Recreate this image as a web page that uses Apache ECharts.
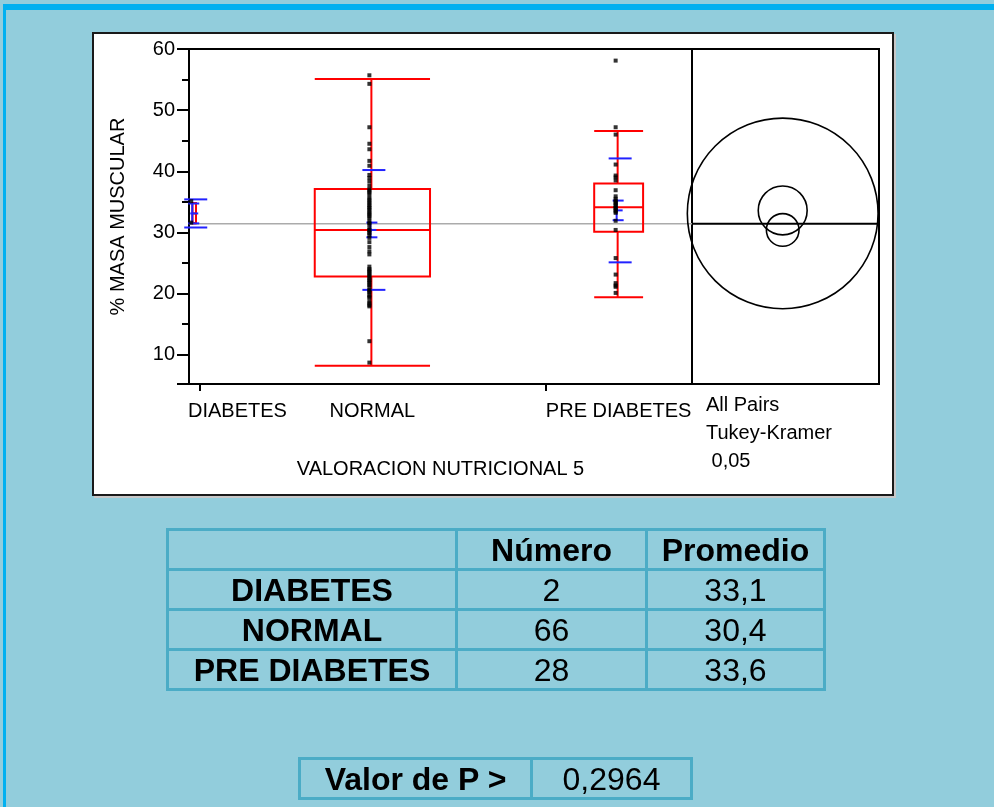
<!DOCTYPE html>
<html>
<head>
<meta charset="utf-8">
<script src="https://cdn.jsdelivr.net/npm/echarts@6/dist/echarts.min.js"></script>
<style>
html,body{margin:0;padding:0;width:994px;height:807px;overflow:hidden;background:#92CDDC;font-family:'Liberation Sans',Arial,sans-serif;}
#frameTop{position:absolute;left:3px;top:4px;width:991px;height:6px;background:#00B0F0;}
#frameLeft{position:absolute;left:3px;top:4px;width:3px;height:803px;background:#00B0F0;}
#panel{position:absolute;left:92px;top:32px;width:798px;height:460px;background:#fff;border:2px solid #1a1a1a;box-shadow:2px 2px 0 #c8c8c8;}
#chart{position:absolute;left:0;top:0;width:994px;height:807px;}
table.t{position:absolute;border-collapse:collapse;table-layout:fixed;color:#000;font-family:'Liberation Sans',Arial,sans-serif;}
table.t td{border:3px solid #4BACC6;text-align:center;vertical-align:middle;padding:0;font-size:32px;line-height:1;}
table.t td.b{font-weight:bold;}
table.t tr{height:40px;}
</style>
</head>
<body>
<div id="frameTop"></div>
<div id="frameLeft"></div>
<div id="panel"></div>
<div id="chart"></div>
<table class="t" id="stats" style="left:166px;top:528px;width:657px;"></table>
<table class="t" id="pbox" style="left:298px;top:757px;width:392px;"></table>
<script>
// ---------------- data ----------------
const categories = ['DIABETES', 'NORMAL', 'PRE DIABETES'];
const counts = [2, 66, 28];
const means = [33.1, 30.4, 33.6];
const stdDevs = [2.3, 9.8, 8.5];
const boxQ1 = [31.5, 22.8, 30.1];
const boxMedian = [33.1, 30.4, 34.1];
const boxQ3 = [34.8, 37.1, 38.0];
const whiskerLow = [31.5, 8.2, 19.4];
const whiskerHigh = [34.8, 55.1, 46.6];
const circleRadius = [15.6, 2.67, 4.0];
const grandMean = 31.4;
const diabetesValues = [35.1, 31.6];
const normalValues = [55.7, 54.3, 47.2, 44.5, 43.6, 41.7, 40.9, 39.4, 38.9, 38.3, 37.6, 37.0, 36.8, 36.5, 36.2, 35.7, 35.4, 35.1, 34.8, 34.5, 34.2, 34.0, 33.7, 33.4, 33.1, 32.9, 32.6, 32.3, 31.8, 31.5, 31.3, 30.7, 30.4, 30.1, 29.9, 29.5, 29.1, 28.4, 27.6, 26.9, 26.4, 24.4, 24.0, 23.8, 23.6, 23.3, 23.1, 22.8, 22.5, 22.2, 22.0, 21.7, 21.4, 21.1, 20.6, 20.4, 20.2, 19.8, 19.5, 19.3, 18.7, 18.4, 18.1, 17.9, 12.2, 8.7];
const preDiabetesValues = [58.1, 47.2, 46.0, 41.1, 39.3, 39.0, 38.5, 36.9, 35.9, 35.5, 35.2, 35.0, 34.8, 34.5, 34.3, 34.0, 33.9, 33.6, 33.4, 33.2, 31.9, 30.4, 25.8, 23.1, 21.7, 21.3, 21.1, 20.1];
const yTickLabels = [10, 20, 30, 40, 50, 60];
const yMinorTicks = [15, 25, 35, 45, 55];
const yMin = 5.2, yMax = 60;
const xAxisTitle = 'VALORACION NUTRICIONAL 5';
const yAxisTitle = '% MASA MUSCULAR';
const tukeyLines = ['All Pairs', 'Tukey-Kramer', ' 0,05'];
const tableHeaders = ['', 'Número', 'Promedio'];
const pLabel = 'Valor de P >';
const pValue = '0,2964';

// ---------------- derived ----------------
const FONT = "'Liberation Sans', Arial, sans-serif";
const total = counts.reduce((a, b) => a + b, 0);
const starts = []; let acc = 0;
counts.forEach(n => { starts.push(acc); acc += n; });
const centers = counts.map((n, i) => starts[i] + n / 2);
const boundaries = starts.slice(1);
const groupValues = [diabetesValues, normalValues, preDiabetesValues];
const scatterData = [];
groupValues.forEach((vals, i) => vals.forEach(v => scatterData.push([centers[i], v])));
const circleX = 0.485;

const measureCtx = document.createElement('canvas').getContext('2d');
function textWidth(t, size) { measureCtx.font = size + 'px ' + FONT; return measureCtx.measureText(t).width; }

function ln(x1, y1, x2, y2, style) {
  return { type: 'line', shape: { x1, y1, x2, y2 }, style: style };
}

function renderBox(params, api) {
  const i = api.value(0);
  const n = counts[i], c = centers[i];
  const half = n / 6;
  const red = { stroke: '#FF0000', lineWidth: 2, fill: 'none' };
  const blue = { stroke: '#2222FF', lineWidth: 2 };
  const L = api.coord([c - half, boxQ3[i]]);
  const R = api.coord([c + half, boxQ1[i]]);
  const cx = api.coord([c, means[i]])[0];
  const wx = cx - 1;
  const yMed = api.coord([c, boxMedian[i]])[1];
  const yHi = api.coord([c, whiskerHigh[i]])[1];
  const yLo = api.coord([c, whiskerLow[i]])[1];
  const ch = [];
  ch.push({ type: 'rect', shape: { x: L[0], y: L[1], width: R[0] - L[0], height: R[1] - L[1] }, style: red });
  ch.push(ln(L[0], yMed, R[0], yMed, red));
  ch.push(ln(wx, L[1], wx, yHi, red));
  ch.push(ln(wx, R[1], wx, yLo, red));
  ch.push(ln(L[0], yHi, R[0], yHi, red));
  ch.push(ln(L[0], yLo, R[0], yLo, red));
  const ySdHi = api.coord([c, means[i] + stdDevs[i]])[1];
  const ySdLo = api.coord([c, means[i] - stdDevs[i]])[1];
  ch.push(ln(cx - 10, ySdHi, cx + 13, ySdHi, blue));
  ch.push(ln(cx - 10, ySdLo, cx + 13, ySdLo, blue));
  const se = stdDevs[i] / Math.sqrt(n);
  const ySeHi = api.coord([c, means[i] + se])[1];
  const ySeLo = api.coord([c, means[i] - se])[1];
  const yMean = api.coord([c, means[i]])[1];
  ch.push(ln(cx - 2, ySeHi, cx - 2, ySeLo, blue));
  ch.push(ln(cx - 6, ySeHi, cx + 5, ySeHi, blue));
  ch.push(ln(cx - 6, ySeLo, cx + 5, ySeLo, blue));
  ch.push(ln(cx - 4, yMean, cx + 4, yMean, blue));
  return { type: 'group', children: ch };
}

function renderCatLabel(params, api) {
  const i = api.value(0);
  const p = api.coord([centers[i], yMin]);
  const left = api.coord([0, yMin])[0];
  const w = textWidth(categories[i], 20);
  let x = p[0];
  if (x - w / 2 < left - 1) x = left - 1 + w / 2;
  return { type: 'text', x: x, y: p[1] + 27,
    style: { text: categories[i], fill: '#000', font: '20px ' + FONT, align: 'center', verticalAlign: 'middle' } };
}

function renderCircle(params, api) {
  const i = api.value(0);
  const c = api.coord([circleX, means[i]]);
  const r = api.size([0, circleRadius[i]])[1];
  return { type: 'circle', shape: { cx: c[0], cy: c[1], r: r }, style: { fill: 'none', stroke: '#000', lineWidth: 1.6 } };
}

const chart = echarts.init(document.getElementById('chart'), null, { renderer: 'canvas' });
const axisLineStyle = { color: '#000', width: 2 };
chart.setOption({
  animation: false,
  backgroundColor: 'transparent',
  textStyle: { fontFamily: FONT },
  grid: [
    { left: 189, top: 49, width: 503, height: 335, show: true, borderColor: '#000', borderWidth: 2, backgroundColor: 'transparent' },
    { left: 692, top: 49, width: 187, height: 335, show: true, borderColor: '#000', borderWidth: 2, backgroundColor: 'transparent' }
  ],
  xAxis: [
    { type: 'value', gridIndex: 0, min: 0, max: total,
      axisLine: { show: true, lineStyle: axisLineStyle },
      axisTick: { show: true, length: 7, customValues: boundaries, lineStyle: axisLineStyle },
      axisLabel: { show: false }, splitLine: { show: false },
      name: xAxisTitle, nameLocation: 'middle', nameGap: 75,
      nameTextStyle: { fontSize: 20, color: '#000', fontFamily: FONT } },
    { type: 'value', gridIndex: 1, min: 0, max: 1, show: false }
  ],
  yAxis: [
    { type: 'value', gridIndex: 0, min: yMin, max: yMax,
      axisLine: { show: true, lineStyle: axisLineStyle },
      axisTick: { show: true, length: 12, customValues: [yMin].concat(yTickLabels), lineStyle: axisLineStyle },
      axisLabel: { show: true, customValues: yTickLabels, fontSize: 20, color: '#000', margin: 14, fontFamily: FONT },
      splitLine: { show: false },
      name: yAxisTitle, nameLocation: 'middle', nameGap: 61,
      nameTextStyle: { fontSize: 20, color: '#000', fontFamily: FONT } },
    { type: 'value', gridIndex: 0, min: yMin, max: yMax, position: 'left', offset: 0,
      axisLine: { show: false },
      axisTick: { show: true, length: 7, customValues: yMinorTicks, lineStyle: axisLineStyle },
      axisLabel: { show: false }, splitLine: { show: false } },
    { type: 'value', gridIndex: 1, min: yMin, max: yMax, show: false }
  ],
  series: [
    { type: 'line', xAxisIndex: 0, yAxisIndex: 0, data: [[0, grandMean], [total, grandMean]],
      symbol: 'none', lineStyle: { color: '#ABABAB', width: 1.5 }, z: 1, silent: true },
    { type: 'custom', xAxisIndex: 0, yAxisIndex: 0, data: categories.map((c, i) => [i]),
      renderItem: renderBox, z: 2, silent: true },
    { type: 'scatter', xAxisIndex: 0, yAxisIndex: 0, data: scatterData,
      symbol: 'rect', symbolSize: 4, symbolOffset: [-3, 0], itemStyle: { color: '#000' }, z: 3, silent: true },
    { type: 'custom', xAxisIndex: 0, yAxisIndex: 0, data: categories.map((c, i) => [i]),
      renderItem: renderCatLabel, z: 4, silent: true },
    { type: 'line', xAxisIndex: 1, yAxisIndex: 2, data: [[0, grandMean], [1, grandMean]],
      symbol: 'none', lineStyle: { color: '#000', width: 2 }, z: 2, silent: true },
    { type: 'custom', xAxisIndex: 1, yAxisIndex: 2, data: categories.map((c, i) => [i]),
      renderItem: renderCircle, z: 3, silent: true }
  ],
  graphic: [
    { type: 'text', left: 706, top: 391, silent: true,
      style: { text: tukeyLines.join('\n'), fill: '#000', font: '20px ' + FONT, lineHeight: 28 } }
  ]
});

// ---------------- tables ----------------
function fmt(v) { return v.toFixed(1).replace('.', ','); }
const stats = document.getElementById('stats');
let html = '<colgroup><col style="width:289px"><col style="width:190px"><col style="width:178px"></colgroup>';
html += '<tr>' + tableHeaders.map(h => '<td class="b">' + h + '</td>').join('') + '</tr>';
categories.forEach((c, i) => {
  html += '<tr><td class="b">' + c + '</td><td>' + counts[i] + '</td><td>' + fmt(means[i]) + '</td></tr>';
});
stats.innerHTML = html;
document.getElementById('pbox').innerHTML =
  '<colgroup><col style="width:232px"><col style="width:160px"></colgroup><tr><td class="b">' + pLabel + '</td><td>' + pValue + '</td></tr>';
</script>
</body>
</html>
